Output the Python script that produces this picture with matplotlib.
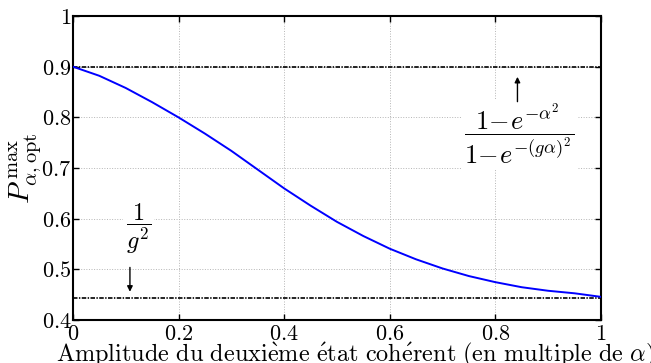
import numpy as np
import matplotlib
matplotlib.use("Agg")
import matplotlib.pyplot as plt

plt.rcParams['mathtext.fontset'] = 'cm'

# Probability of optimal discrimination vs amplitude of second coherent state
amplitude = [0.00, 0.05, 0.10, 0.15, 0.20, 0.25, 0.30, 0.35, 0.40, 0.45, 0.50,
             0.55, 0.60, 0.65, 0.70, 0.75, 0.80, 0.85, 0.90, 0.95, 1.00]
p_max = [0.900, 0.882, 0.858, 0.830, 0.800, 0.768, 0.734, 0.697, 0.660, 0.626,
         0.594, 0.566, 0.541, 0.520, 0.502, 0.487, 0.475, 0.465, 0.458, 0.453, 0.446]

upper_bound = 0.9          # (1 - e^{-a^2}) / (1 - e^{-(g a)^2})
g = 1.5
lower_bound = 1.0 / g**2   # 1 / g^2

xticks = [0.0, 0.2, 0.4, 0.6, 0.8, 1.0]
xtick_labels = ['0', '0.2', '0.4', '0.6', '0.8', '1']
yticks = [0.4, 0.5, 0.6, 0.7, 0.8, 0.9, 1.0]
ytick_labels = ['0.4', '0.5', '0.6', '0.7', '0.8', '0.9', '1']

fig = plt.figure(figsize=(6.51, 3.63), dpi=100)
ax = fig.add_axes([0.112, 0.118, 0.811, 0.838])

ax.plot(amplitude, p_max, color='blue', lw=1.4, zorder=4)

dash_style = (0, (2.7, 0.85, 0.85, 0.85))
ax.axhline(upper_bound, color='black', lw=1.2, linestyle=dash_style, zorder=3)
ax.axhline(lower_bound, color='black', lw=1.2, linestyle=dash_style, zorder=3)

ax.set_xlim(0, 1)
ax.set_ylim(0.4, 1.0)
ax.set_xticks(xticks)
ax.set_xticklabels([f'${t}$' for t in xtick_labels])
ax.set_yticks(yticks)
ax.set_yticklabels([f'${t}$' for t in ytick_labels])
ax.tick_params(direction='in', length=4, width=1.0, top=True, right=True,
               labelsize=16, pad=1)
ax.tick_params(axis='x', pad=3)

for sp in ax.spines.values():
    sp.set_linewidth(1.5)

ax.grid(True, color='#b5b5b5', linestyle=':', lw=0.7)
ax.set_axisbelow(True)

# Bound labels with arrows
ax.text(0.846, 0.767, r'$\dfrac{1\!-\!e^{-\alpha^2}}{1\!-\!e^{-(g\alpha)^2}}$',
        fontsize=19, ha='center', va='center', zorder=2,
        bbox=dict(facecolor='white', edgecolor='none', pad=2))
ax.annotate('', xy=(0.842, 0.880), xytext=(0.842, 0.831),
            arrowprops=dict(arrowstyle='-|>', color='black', lw=1.0,
                            mutation_scale=8, shrinkA=0, shrinkB=0), zorder=5)

ax.text(0.124, 0.580, r'$\dfrac{1}{g^2}$', fontsize=17.5,
        ha='center', va='center', zorder=2,
        bbox=dict(facecolor='white', edgecolor='none', pad=2))
ax.annotate('', xy=(0.108, 0.456), xytext=(0.108, 0.504),
            arrowprops=dict(arrowstyle='-|>', color='black', lw=1.0,
                            mutation_scale=8, shrinkA=0, shrinkB=0), zorder=5)

fig.text(0.545, 0.004,
         r'$\mathrm{Amplitude\ du\ deuxi\grave{e}me\ \acute{e}tat\ coh\acute{e}rent\ (en\ multiple\ de\ }\alpha\mathrm{)}$',
         fontsize=17.5, ha='center', va='baseline')
ax.set_ylabel(r'$P^{\,\mathrm{max}}_{\alpha,\mathrm{opt}}$', fontsize=21, labelpad=-2)

fig.savefig('out.png', dpi=100)
